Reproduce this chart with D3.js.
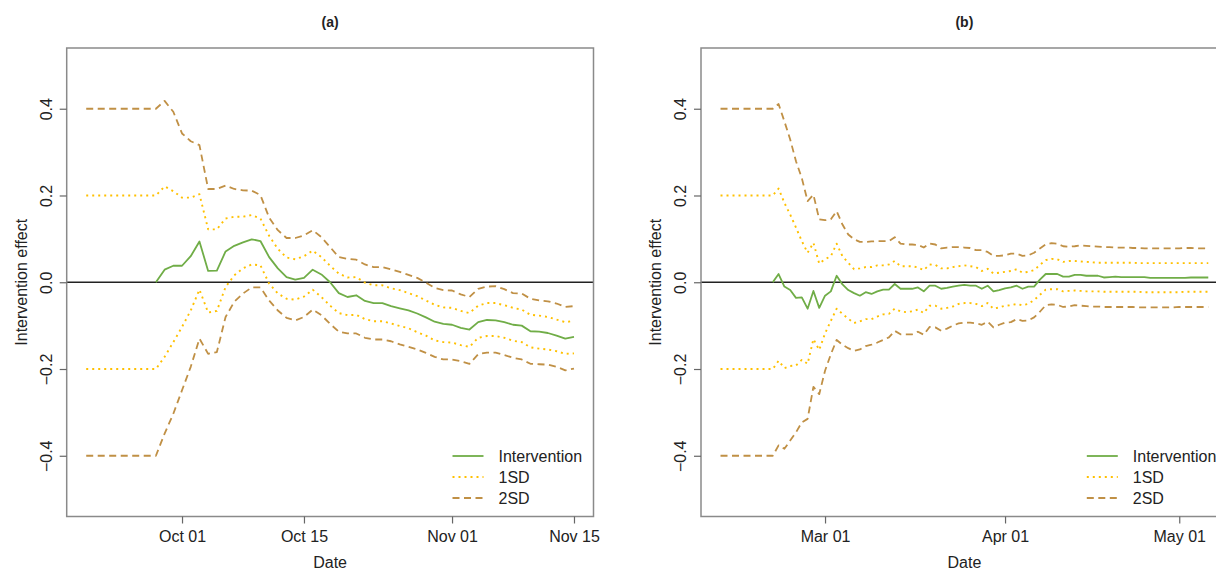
<!DOCTYPE html>
<html><head><meta charset="utf-8">
<script src="https://cdn.jsdelivr.net/npm/d3@7"></script>
<style>
body{margin:0;background:#fff;}
svg{display:block;font-family:"Liberation Sans",Arial,sans-serif;}
</style></head>
<body><svg id="c" width="1216" height="571"></svg>
<script>
// ---------- DATA ----------
const startA = "2020-09-20", nA = 57;          // daily, Sep 20 .. Nov 15
const startB = "2021-02-11", nB = 85;          // daily, Feb 11 .. May 06
const ticksA = ["2020-10-01","2020-10-15","2020-11-01","2020-11-15"];
const ticksB = ["2021-03-01","2021-04-01","2021-05-01"];
const yTicks = [-0.4,-0.2,0.0,0.2,0.4];
const seriesNames = ["Intervention","1SD","2SD"];

const interventionA = [null,null,null,null,null,null,null,null,
 0,0.029,0.038,0.038,0.060,0.094,0.026,0.027,0.071,0.084,0.092,0.099,0.095,0.058,0.032,0.012,0.006,0.010,0.029,0.018,0.000,
 -0.025,-0.034,-0.030,-0.043,-0.048,-0.048,-0.055,-0.060,-0.065,-0.072,-0.081,-0.091,-0.096,-0.098,-0.105,-0.109,
 -0.092,-0.087,-0.088,-0.092,-0.098,-0.100,-0.113,-0.114,-0.117,-0.123,-0.130,-0.126];
const up2A = [0.4,0.4,0.4,0.4,0.4,0.4,0.4,0.4,0.4,
 0.418,0.393,0.343,0.325,0.316,0.215,0.215,0.223,0.215,0.212,0.211,0.201,0.149,0.120,0.102,0.102,0.108,0.120,0.104,0.081,
 0.058,0.054,0.052,0.041,0.035,0.035,0.030,0.024,0.017,0.010,-0.001,-0.013,-0.018,-0.019,-0.028,-0.034,
 -0.015,-0.010,-0.009,-0.016,-0.025,-0.026,-0.038,-0.042,-0.044,-0.049,-0.057,-0.055];
const up1A = [0.2,0.2,0.2,0.2,0.2,0.2,0.2,0.2,0.2,
 0.221,0.210,0.195,0.195,0.203,0.122,0.122,0.147,0.151,0.151,0.155,0.147,0.107,0.077,0.057,0.053,0.060,0.073,0.058,0.038,
 0.020,0.011,0.012,-0.001,-0.007,-0.007,-0.014,-0.018,-0.025,-0.032,-0.042,-0.052,-0.058,-0.059,-0.066,-0.071,
 -0.054,-0.048,-0.048,-0.053,-0.059,-0.063,-0.075,-0.077,-0.080,-0.086,-0.092,-0.089];
const lo1A = [-0.2,-0.2,-0.2,-0.2,-0.2,-0.2,-0.2,-0.2,-0.2,
 -0.172,-0.138,-0.103,-0.065,-0.017,-0.070,-0.066,-0.011,0.016,0.032,0.041,0.039,-0.003,-0.026,-0.038,-0.040,-0.033,-0.017,-0.034,-0.054,
 -0.071,-0.076,-0.075,-0.085,-0.090,-0.090,-0.095,-0.101,-0.106,-0.115,-0.123,-0.134,-0.138,-0.139,-0.145,-0.149,
 -0.128,-0.124,-0.124,-0.128,-0.135,-0.138,-0.150,-0.153,-0.155,-0.159,-0.165,-0.164];
const lo2A = [-0.4,-0.4,-0.4,-0.4,-0.4,-0.4,-0.4,-0.4,-0.4,
 -0.349,-0.303,-0.249,-0.195,-0.130,-0.165,-0.161,-0.080,-0.045,-0.026,-0.012,-0.012,-0.042,-0.065,-0.082,-0.088,-0.080,-0.063,-0.076,-0.096,
 -0.114,-0.118,-0.118,-0.128,-0.132,-0.132,-0.136,-0.143,-0.149,-0.155,-0.163,-0.172,-0.178,-0.178,-0.182,-0.188,
 -0.166,-0.162,-0.162,-0.168,-0.174,-0.178,-0.188,-0.189,-0.190,-0.195,-0.203,-0.199];

const interventionB = [null,null,null,null,null,null,null,null,null,
 0,0.019,-0.010,-0.018,-0.036,-0.035,-0.061,-0.020,-0.059,-0.031,-0.021,0.015,-0.005,-0.018,-0.025,-0.031,-0.023,-0.027,-0.021,-0.017,-0.017,
 -0.004,-0.015,-0.015,-0.015,-0.012,-0.021,-0.008,-0.008,-0.015,-0.013,-0.010,-0.008,-0.006,-0.008,-0.008,-0.015,-0.008,-0.021,-0.018,-0.014,
 -0.012,-0.008,-0.015,-0.010,-0.010,0.006,0.019,0.019,0.019,0.013,0.013,0.017,0.017,0.015,0.015,0.015,0.011,0.012,0.013,0.012,
 0.012,0.012,0.012,0.012,0.010,0.010,0.010,0.010,0.010,0.010,0.010,0.011,0.011,0.011,0.011];
const up2B = [0.4,0.4,0.4,0.4,0.4,0.4,0.4,0.4,0.4,0.4,
 0.411,0.371,0.329,0.279,0.240,0.187,0.202,0.145,0.143,0.145,0.164,0.133,0.110,0.099,0.093,0.093,0.094,0.095,0.095,0.095,
 0.104,0.089,0.087,0.087,0.086,0.080,0.089,0.087,0.078,0.080,0.081,0.081,0.080,0.079,0.074,0.074,0.070,0.061,0.061,0.062,
 0.066,0.066,0.061,0.062,0.068,0.078,0.087,0.090,0.089,0.083,0.082,0.083,0.085,0.084,0.083,0.082,0.081,0.081,0.080,0.080,
 0.080,0.079,0.079,0.078,0.078,0.078,0.078,0.078,0.078,0.078,0.079,0.079,0.078,0.078,0.078];
const up1B = [0.2,0.2,0.2,0.2,0.2,0.2,0.2,0.2,0.2,0.2,
 0.216,0.183,0.156,0.126,0.095,0.068,0.091,0.043,0.053,0.060,0.089,0.060,0.045,0.030,0.032,0.035,0.035,0.039,0.039,0.041,
 0.049,0.037,0.037,0.037,0.034,0.028,0.041,0.040,0.032,0.032,0.035,0.037,0.039,0.037,0.035,0.026,0.031,0.020,0.022,0.024,
 0.026,0.030,0.022,0.024,0.028,0.040,0.051,0.054,0.053,0.047,0.049,0.049,0.048,0.047,0.046,0.045,0.045,0.045,0.045,0.045,
 0.045,0.045,0.044,0.044,0.044,0.044,0.044,0.044,0.044,0.044,0.044,0.044,0.044,0.044,0.044];
const lo1B = [-0.2,-0.2,-0.2,-0.2,-0.2,-0.2,-0.2,-0.2,-0.2,-0.2,
 -0.181,-0.198,-0.193,-0.192,-0.179,-0.188,-0.131,-0.156,-0.118,-0.089,-0.061,-0.073,-0.084,-0.094,-0.090,-0.085,-0.085,-0.079,-0.074,-0.073,
 -0.061,-0.067,-0.069,-0.067,-0.063,-0.071,-0.054,-0.054,-0.061,-0.059,-0.056,-0.050,-0.048,-0.048,-0.050,-0.055,-0.048,-0.061,-0.058,-0.054,
 -0.053,-0.050,-0.053,-0.050,-0.041,-0.029,-0.017,-0.016,-0.016,-0.021,-0.020,-0.019,-0.020,-0.021,-0.021,-0.021,-0.022,-0.022,-0.022,-0.022,
 -0.022,-0.022,-0.022,-0.023,-0.023,-0.023,-0.023,-0.023,-0.023,-0.023,-0.022,-0.022,-0.022,-0.022,-0.022];
const lo2B = [-0.4,-0.4,-0.4,-0.4,-0.4,-0.4,-0.4,-0.4,-0.4,-0.4,
 -0.376,-0.384,-0.365,-0.346,-0.323,-0.315,-0.241,-0.258,-0.204,-0.166,-0.133,-0.144,-0.152,-0.158,-0.155,-0.147,-0.144,-0.139,-0.133,-0.127,
 -0.112,-0.120,-0.120,-0.120,-0.114,-0.121,-0.103,-0.104,-0.112,-0.107,-0.100,-0.095,-0.093,-0.093,-0.095,-0.098,-0.091,-0.104,-0.098,-0.093,
 -0.092,-0.085,-0.089,-0.088,-0.081,-0.068,-0.053,-0.051,-0.052,-0.057,-0.056,-0.053,-0.054,-0.055,-0.056,-0.056,-0.057,-0.057,-0.057,-0.057,
 -0.057,-0.057,-0.058,-0.058,-0.058,-0.058,-0.058,-0.058,-0.058,-0.057,-0.057,-0.057,-0.057,-0.057,-0.057];

// ---------- STYLE ----------
const COL = {int:"#70AD47", sd1:"#FFC000", sd2:"#C09045"};
const svg = d3.select("#c");
const parse = d3.utcParse("%Y-%m-%d");
const fmt = d3.utcFormat("%b %d");

function panel(opt){
  const {left,right,top,bottom,start,n,ticks,title,series} = opt;
  const s = parse(start);
  const dates = d3.utcDay.range(s, d3.utcDay.offset(s, n));
  const span = dates[dates.length-1] - dates[0];
  const x = d3.scaleUtc()
    .domain([new Date(+dates[0]-0.04*span), new Date(+dates[dates.length-1]+0.04*span)])
    .range([left,right]);
  const y = d3.scaleLinear().domain([-0.54,0.54]).range([bottom,top]);
  const g = svg.append("g");

  // title
  g.append("text").attr("x",(left+right)/2).attr("y",top-21)
    .attr("text-anchor","middle").attr("font-size",14).attr("font-weight","bold")
    .attr("fill","#222").text(title);

  // zero line
  g.append("line").attr("x1",left).attr("x2",right).attr("y1",y(0)).attr("y2",y(0))
    .attr("stroke","#222").attr("stroke-width",1.6);

  const line = d3.line().defined(d=>d[1]!==null).x(d=>x(d[0])).y(d=>y(d[1]));
  const draw = (vals,col,dash,w)=>{
    g.append("path").datum(dates.map((d,i)=>[d,vals[i]]))
      .attr("d",line).attr("fill","none").attr("stroke",col)
      .attr("stroke-width",w).attr("stroke-dasharray",dash)
      .attr("stroke-linejoin","round");
  };
  draw(series.lo2,COL.sd2,"7,4.5",1.8);
  draw(series.up2,COL.sd2,"7,4.5",1.8);
  draw(series.lo1,COL.sd1,"2,4",1.9);
  draw(series.up1,COL.sd1,"2,4",1.9);
  draw(series.int,COL.int,null,1.8);

  // frame
  g.append("rect").attr("x",left).attr("y",top).attr("width",right-left).attr("height",bottom-top)
    .attr("fill","none").attr("stroke","#8a8a8a").attr("stroke-width",1.5);

  // x axis
  const xa = g.append("g").attr("transform",`translate(0,${bottom})`)
    .call(d3.axisBottom(x).tickValues(ticks.map(parse)).tickFormat(fmt).tickSize(7).tickSizeOuter(0));
  xa.select(".domain").remove();
  xa.selectAll(".tick line").attr("stroke","#666").attr("stroke-width",1.2);
  xa.selectAll(".tick text").attr("font-size",16).attr("fill","#222")
    .attr("font-family","Liberation Sans, Arial, sans-serif").attr("dy",0).attr("y",25);
  g.append("text").attr("x",(left+right)/2).attr("y",bottom+51).attr("text-anchor","middle")
    .attr("font-size",16).attr("fill","#222").text("Date");

  // y axis
  const ya = g.append("g").attr("transform",`translate(${left},0)`)
    .call(d3.axisLeft(y).tickValues(yTicks).tickFormat(d3.format(".1f")).tickSize(7).tickSizeOuter(0));
  ya.select(".domain").remove();
  ya.selectAll(".tick line").attr("stroke","#666").attr("stroke-width",1.2);
  ya.selectAll(".tick text").attr("font-size",16).attr("fill","#222")
    .attr("font-family","Liberation Sans, Arial, sans-serif")
    .attr("x",null).attr("dy",null).attr("text-anchor","middle")
    .attr("transform","translate(-15,0) rotate(-90)");
  g.append("text").attr("transform",`translate(${left-40},${(top+bottom)/2}) rotate(-90)`)
    .attr("text-anchor","middle").attr("font-size",16).attr("fill","#222").text("Intervention effect");

  // legend
  const lx = right-141, ly = 456, lh = 21;
  const leg = [[COL.int,null,1.8],[COL.sd1,"2,4",1.9],[COL.sd2,"7,4.5",1.8]];
  seriesNames.forEach((nm,i)=>{
    g.append("line").attr("x1",lx).attr("x2",lx+31).attr("y1",ly+i*lh).attr("y2",ly+i*lh)
      .attr("stroke",leg[i][0]).attr("stroke-dasharray",leg[i][1]).attr("stroke-width",leg[i][2]);
    g.append("text").attr("x",lx+46).attr("y",ly+i*lh).attr("dy","0.36em")
      .attr("font-size",16).attr("fill","#222").text(nm);
  });
}

panel({left:66.7,right:593.5,top:48,bottom:516.5,start:startA,n:nA,ticks:ticksA,title:"(a)",
  series:{int:interventionA,up1:up1A,lo1:lo1A,up2:up2A,lo2:lo2A}});
panel({left:701,right:1227.8,top:48,bottom:516.5,start:startB,n:nB,ticks:ticksB,title:"(b)",
  series:{int:interventionB,up1:up1B,lo1:lo1B,up2:up2B,lo2:lo2B}});
</script></body></html>
